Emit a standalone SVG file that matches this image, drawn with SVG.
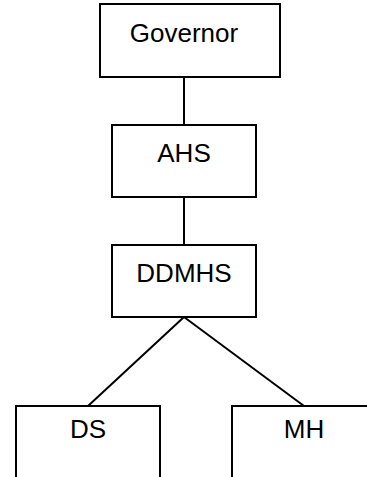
<svg xmlns="http://www.w3.org/2000/svg" width="367" height="477" viewBox="0 0 367 477">
<style>
.box{fill:#fff;stroke:#000;stroke-width:2}
.lbl{font-family:"Liberation Sans",Arial,sans-serif;font-size:26px;fill:#000;text-anchor:middle}
.conn line{stroke:#000;stroke-width:2}
</style>
<rect width="367" height="477" fill="#fff"/>
<g class="conn">
<line x1="184" y1="77" x2="184" y2="125"/>
<line x1="184" y1="197" x2="184" y2="245"/>
<line x1="184" y1="317" x2="88" y2="406"/>
<line x1="184" y1="317" x2="304" y2="406"/>
</g>
<g id="governor"><rect class="box" x="100" y="4" width="180" height="73"/><text class="lbl" x="184" y="42">Governor</text></g>
<g id="ahs"><rect class="box" x="112" y="125" width="144" height="72"/><text class="lbl" x="184" y="161.5">AHS</text></g>
<g id="ddmhs"><rect class="box" x="112" y="245" width="144" height="72"/><text class="lbl" x="184" y="281.5">DDMHS</text></g>
<g id="ds"><rect class="box" x="16" y="406" width="144" height="80"/><text class="lbl" x="88" y="438">DS</text></g>
<g id="mh"><rect class="box" x="232" y="406" width="144" height="80"/><text class="lbl" x="304" y="438">MH</text></g>
</svg>
